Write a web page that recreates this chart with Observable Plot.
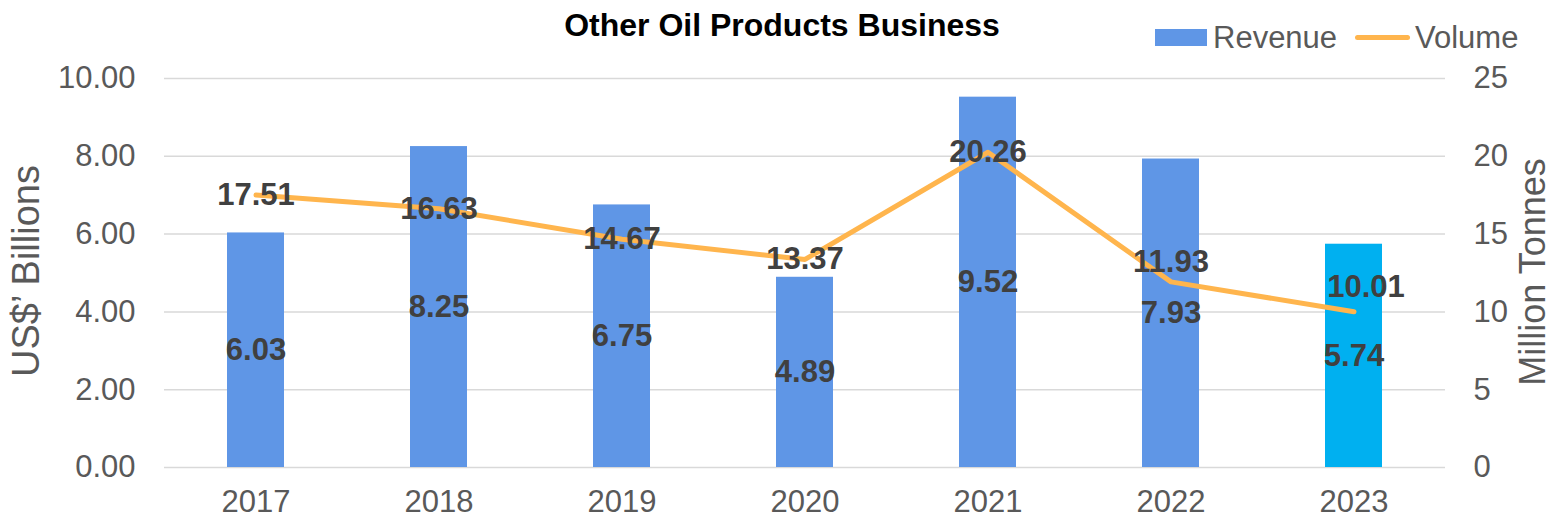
<!DOCTYPE html>
<html><head><meta charset="utf-8">
<script src="https://cdn.jsdelivr.net/npm/d3@7"></script>
<script src="https://cdn.jsdelivr.net/npm/@observablehq/plot@0.6"></script>
<style>
body{margin:0;background:#fff;font-family:"Liberation Sans",Arial,sans-serif;}
#wrap{width:1554px;}
#header{position:relative;height:60px;}
#title{position:absolute;left:0;width:1564px;top:9px;line-height:32px;text-align:center;font-weight:bold;font-size:32px;color:#000;}
.lg{position:absolute;}
.lgt{position:absolute;top:22px;font-size:31px;line-height:31px;color:#595959;}
</style>
</head><body>
<div id="wrap">
  <div id="header">
    <div id="title">Other Oil Products Business</div>
    <div class="lg" style="left:1155px;top:29px;width:52px;height:17px;background:#5F96E6"></div>
    <div class="lgt" style="left:1213px">Revenue</div>
    <div class="lg" style="left:1355px;top:35px;width:55px;height:5px;border-radius:3px;background:#FFB54D"></div>
    <div class="lgt" style="left:1415px">Volume</div>
  </div>
  <div id="chart"></div>
</div>
<script>
const years = ["2017","2018","2019","2020","2021","2022","2023"];
const revenue = [6.03, 8.25, 6.75, 4.89, 9.52, 7.93, 5.74];
const volume = [17.51, 16.63, 14.67, 13.37, 20.26, 11.93, 10.01];
const leftTicks = [0, 2, 4, 6, 8, 10];
const rightTicks = [0, 5, 10, 15, 20, 25];
const ratio = 2.5; // 25 tonnes axis max / 10 billion axis max
const raisedLabels = ["2022", "2023"];

const data = years.map((y, i) => ({year: y, rev: revenue[i], vol: volume[i]}));

const blue = "#5F96E6", cyan = "#00B0F0", orange = "#FFB54D";
const labelColor = "#404040", tickColor = "#595959";

const plot = Plot.plot({
  width: 1554,
  height: 458,
  marginTop: 18,
  marginBottom: 51,
  marginLeft: 164,
  marginRight: 109,
  style: {fontFamily: "'Liberation Sans', Arial, sans-serif", fontSize: "31px", background: "#fff"},
  x: {type: "band", domain: years, paddingInner: 0.69, paddingOuter: 0.345},
  y: {domain: [0, 10]},
  color: {type: "identity"},
  marks: [
    Plot.gridY(leftTicks, {stroke: "#D9D9D9", strokeOpacity: 1, strokeWidth: 1.5}),
    Plot.barY(data, {x: "year", y: "rev", fill: d => d.year === "2023" ? cyan : blue}),
    Plot.line(data, {x: "year", y: d => d.vol / ratio, stroke: orange, strokeWidth: 5, strokeLinecap: "round", strokeLinejoin: "round"}),
    Plot.axisX({tickSize: 0, tickPadding: 22, fontSize: 31, color: tickColor, label: null}),
    Plot.axisY(leftTicks, {anchor: "left", tickSize: 0, tickPadding: 29, fontSize: 31, color: tickColor, tickFormat: d => d.toFixed(2), label: null}),
    Plot.axisY(rightTicks.map(v => v / ratio), {anchor: "right", tickSize: 0, tickPadding: 28, fontSize: 31, color: tickColor, tickFormat: d => String(Math.round(d * ratio)), label: null}),
    Plot.text(["US$’ Billions"], {frameAnchor: "left", textAnchor: "middle", dx: -138, dy: -2, rotate: -90, fontSize: 38, fill: tickColor, text: d => d}),
    Plot.text(["Million Tonnes"], {frameAnchor: "right", textAnchor: "middle", dx: 88, dy: -1, rotate: -90, fontSize: 36, fill: tickColor, text: d => d}),
    Plot.text(data, {x: "year", y: d => d.rev / 2, text: d => d.rev.toFixed(2), fontSize: 31, fontWeight: "bold", fill: labelColor}),
    Plot.text(data.filter(d => !raisedLabels.includes(d.year)), {x: "year", y: d => d.vol / ratio, text: d => d.vol.toFixed(2), fontSize: 31, fontWeight: "bold", fill: labelColor}),
    Plot.text(data.filter(d => d.year === "2022"), {x: "year", y: d => d.vol / ratio, dy: -20, text: d => d.vol.toFixed(2), fontSize: 31, fontWeight: "bold", fill: labelColor}),
    Plot.text(data.filter(d => d.year === "2023"), {x: "year", y: d => d.vol / ratio, dx: 12, dy: -25, text: d => d.vol.toFixed(2), fontSize: 31, fontWeight: "bold", fill: labelColor})
  ]
});
document.getElementById("chart").appendChild(plot);
</script>
</body></html>
